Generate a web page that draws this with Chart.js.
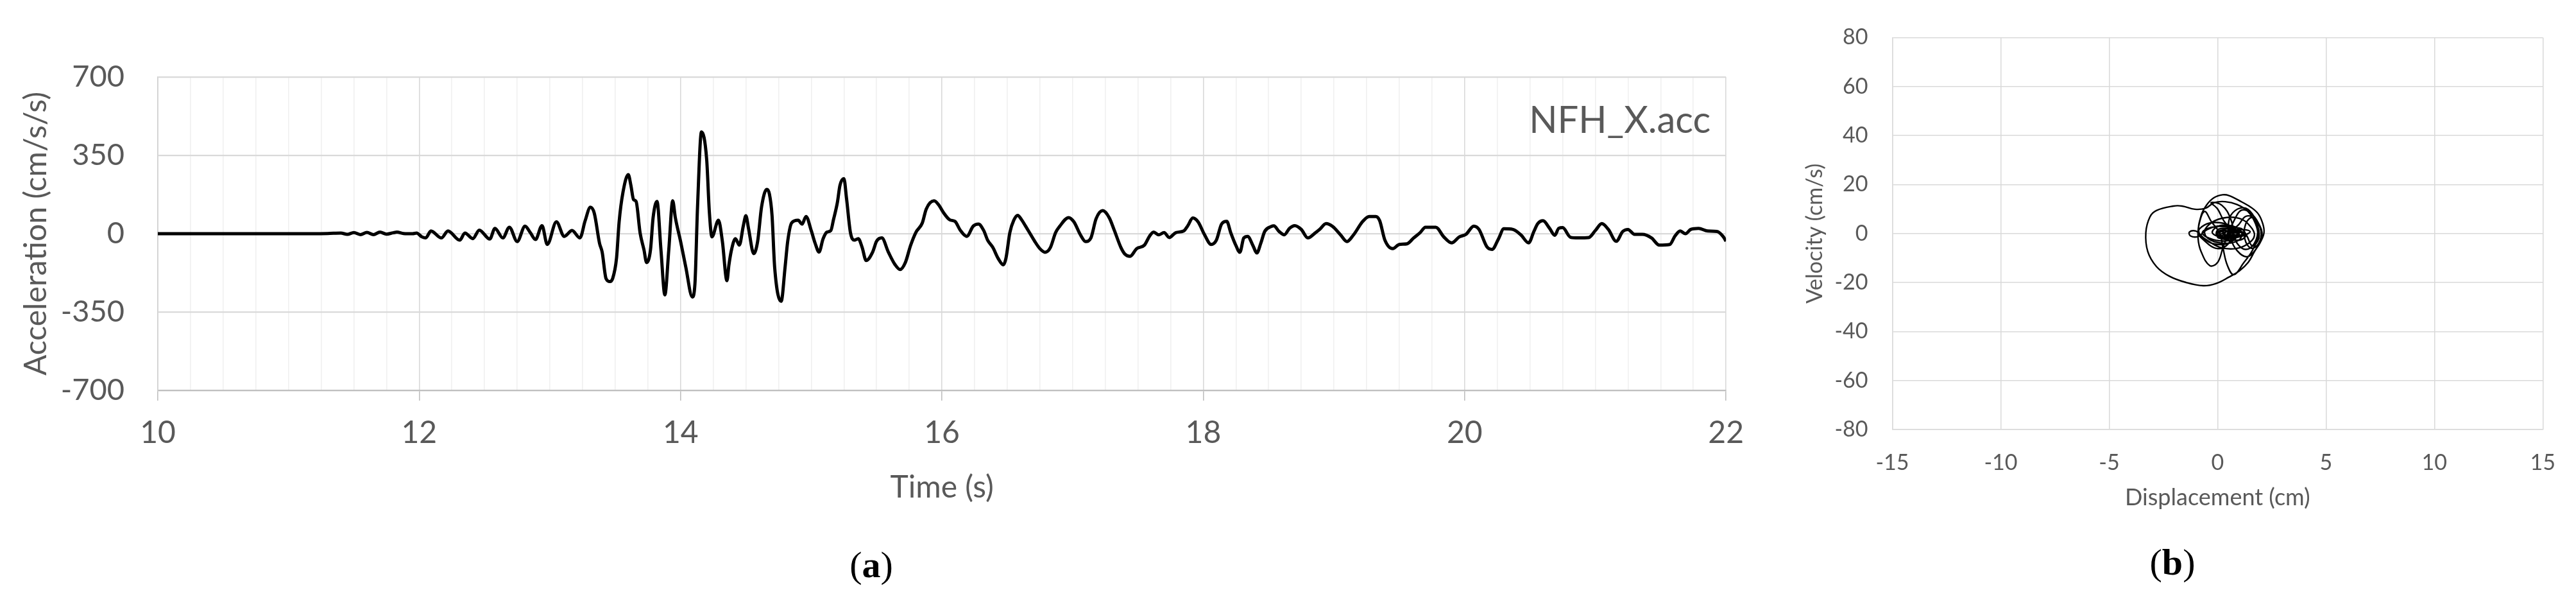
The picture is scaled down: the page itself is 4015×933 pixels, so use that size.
<!DOCTYPE html>
<html>
<head>
<meta charset="utf-8">
<script src="https://cdn.jsdelivr.net/npm/chart.js"></script>
<style>
  html, body { margin: 0; padding: 0; background: #fff; overflow: hidden; }
  #wrap { position: relative; width: 4015px; height: 933px; }
  canvas { position: absolute; top: 0; }
  #accChart { left: 0; }
  #phaseChart { left: 2740px; }
  .sub { position: absolute; font-family: "Liberation Serif", serif; font-size: 58px; color: #000;
         transform: translate(-50%, -50%); white-space: nowrap; }
</style>
</head>
<body>
<div id="wrap">
  <canvas id="accChart" width="2740" height="933"></canvas>
  <canvas id="phaseChart" width="1275" height="933"></canvas>
  <div class="sub" style="left:1358px; top:879px;">(<b>a</b>)</div>
  <div class="sub" style="left:3386px; top:875px;">(<b>b</b>)</div>
</div>
<script>
// (a) acceleration record NFH_X.acc
const timeSec = [
  10, 10.5, 11, 11.3, 11.4, 11.45, 11.5, 11.55, 11.6, 11.65, 11.7, 11.75, 11.8, 11.83, 11.88, 11.95, 11.98, 12.02, 12.05,
  12.09, 12.17, 12.22, 12.31, 12.35, 12.41, 12.46, 12.54, 12.58, 12.64, 12.69, 12.75, 12.81, 12.85, 12.89, 12.94, 12.98,
  13.05, 13.11, 13.17, 13.23, 13.27, 13.31, 13.34, 13.38, 13.40, 13.43, 13.46, 13.48, 13.51, 13.53, 13.56, 13.60, 13.62,
  13.64, 13.66, 13.69, 13.72, 13.74, 13.77, 13.79, 13.82, 13.85, 13.88, 13.91, 13.94, 13.96, 14.00, 14.04, 14.09, 14.11,
  14.13, 14.16, 14.20, 14.22, 14.24, 14.29, 14.32, 14.355, 14.37, 14.39, 14.42, 14.45, 14.48, 14.50, 14.52, 14.56, 14.59,
  14.62, 14.66, 14.68, 14.70, 14.72, 14.77, 14.80, 14.82, 14.85, 14.90, 14.93, 14.96, 15.00, 15.03, 15.06, 15.09, 15.12,
  15.15, 15.17, 15.20, 15.22, 15.25, 15.27, 15.30, 15.33, 15.36, 15.39, 15.42, 15.47, 15.50, 15.54, 15.59, 15.64, 15.68,
  15.72, 15.76, 15.80, 15.85, 15.88, 15.94, 15.98, 16.01, 16.06, 16.10, 16.14, 16.19, 16.24, 16.28, 16.32, 16.35, 16.39,
  16.43, 16.47, 16.49, 16.52, 16.55, 16.58, 16.61, 16.64, 16.67, 16.71, 16.75, 16.79, 16.83, 16.87, 16.90, 16.97, 17.01,
  17.06, 17.10, 17.14, 17.18, 17.23, 17.28, 17.32, 17.37, 17.40, 17.44, 17.49, 17.55, 17.59, 17.62, 17.66, 17.70, 17.74,
  17.79, 17.85, 17.88, 17.92, 17.96, 18.01, 18.06, 18.10, 18.14, 18.18, 18.21, 18.25, 18.28, 18.31, 18.34, 18.38, 18.41,
  18.44, 18.47, 18.52, 18.54, 18.58, 18.62, 18.66, 18.70, 18.75, 18.80, 18.86, 18.89, 18.94, 18.99, 19.05, 19.10, 19.15,
  19.22, 19.27, 19.32, 19.35, 19.39, 19.45, 19.50, 19.56, 19.61, 19.66, 19.70, 19.78, 19.84, 19.90, 19.96, 20.01, 20.07,
  20.11, 20.17, 20.21, 20.26, 20.30, 20.37, 20.43, 20.49, 20.53, 20.56, 20.60, 20.65, 20.69, 20.72, 20.75, 20.81, 20.87,
  20.95, 21.00, 21.05, 21.10, 21.16, 21.21, 21.25, 21.30, 21.36, 21.43, 21.49, 21.57, 21.61, 21.65, 21.69, 21.73, 21.79,
  21.86, 21.93, 21.98, 22.00
];
const accel = [
  0, 0, 0, 1, 3, -3, 5, -4, 6, -4, 7, -2, 4, 7, 1, 0, 3, -14, -19,
  12, -19, 12, -29, 3, -22, 16, -24, 24, -19, 29, -35, 34, 5, -26, 36, -48,
  53, -12, 14, -19, 58, 118, 91, -43, -82, -201, -214, -201, -110, 53, 187, 264, 216,
  153, 144, 5, -72, -129, -72, 72, 144, -72, -273, -72, 147, 72, -34, -149, -283, -225,
  120, 455, 331, 101, -14, 60, -34, -210, -140, -72, -22, -51, 34, 80, 24, -89, -34,
  120, 198, 177, 82, -149, -302, -149, -34, 48, 60, 43, 77, 14, -43, -82, -24, 7,
  14, 62, 139, 216, 246, 158, 5, -29, -22, -62, -120, -82, -34, -19, -82, -137, -160,
  -129, -53, 5, 48, 110, 147, 125, 96, 62, 55, 16, -12, 34, 43, 14, -29, -62,
  -110, -139, -110, 5, 60, 82, 62, 34, 5, -34, -67, -83, -62, 5, 32, 72, 53,
  -5, -35, -19, 67, 103, 72, 14, -62, -91, -101, -67, -51, -10, 7, -5, 5, -17,
  5, 12, 34, 70, 53, -5, -48, -29, 43, 55, 5, -53, -83, -19, -12, -53, -86,
  -43, 10, 32, 35, 10, -5, 24, 36, 19, -19, 5, 19, 45, 32, -5, -35, -5,
  55, 77, 77, 58, -29, -67, -48, -45, -19, 5, 29, 29, -14, -41, -14, -3, 34,
  19, -58, -70, -22, 22, 19, -5, -41, 10, 45, 58, 24, -7, 24, 27, -16, -19,
  -17, 14, 45, 19, -34, 10, 19, -3, -3, -19, -51, -48, -10, 12, 0, 19, 24,
  12, 10, -14, -34
];
const accTicks = [-700, -350, 0, 350, 700];

// (b) velocity vs displacement orbit
const dispCm = [
  0, 0.15, 0.35, 0.2, 0, 0.1, 0.5, 0.6, 0.3, -0.05, 0.05, 0.6, 0.9, 0.6, 0.1,
  -0.25, 0.1, 0.7, 1.1, 1.0, 0.4, -0.3, -0.6, -0.4, 0.2, 1.0, 1.5, 1.7, 1.4, 0.8, 0.1, -0.5,
  -0.86, -0.76, -0.51, -0.17, 0.23, 0.52, 1.11, 1.6, 1.9, 2.09, 2.14, 2.0, 1.7, 1.41, 1.01, 0.52,
  -0.07, -0.66, -1.45, -2.23, -2.82, -3.22, -3.31, -3.12, -2.82, -2.04, -1.64, -1.05, -0.56,
  -0.15, 0.35, 0.9, 1.4, 1.75, 1.85, 1.6, 1.2, 0.75, 0.45, 0.25, 0.1,
  -0.3, -0.6, -0.85, -0.9, -0.76, -0.36, 0, 0.25, 0.5,
  0.8, 1.1, 1.5, 1.9, 2.05, 1.8, 1.35, 0.9, 0.6,
  0.5, 0.7, 1.2, 1.6, 1.85, 1.7, 1.3, 0.9, 0.7,
  0.3, 0, -0.3, 0.2, 0.6, 0.7, 0.4, -0.1, -0.6,
  -0.9, -0.6, -0.1, 0.5, 0.9, 0.7, 0.2, -0.4, -0.8,
  -1.0, -1.3, -1.25, -0.9, -0.5, 0, 0.6, 1.0, 0.7, 0.1, -0.5,
  -0.7, -0.3, 0.3, 0.9, 1.3, 1.1, 0.5, 0,
  0.9, 1.3, 1.7, 2.0, 1.9, 1.55, 1.25, 1.3, 1.6, 1.85, 1.9, 1.6, 1.35,
  1.1, 0.6, 0.2, 0.1, 0.4, 0.9, 1.3, 1.5, 1.2, 0.6, 0.25, 0.35, 0.8, 1.2,
  1.0, 0.5, 0.3, 0.6, 1.1, 1.25, 0.9, 0.5, 0.45, 0.8, 1.0, 0.8, 0.6
];
const velCms = [
  0, 0.8, 0.2, -0.8, -0.2, 1.2, 0.9, -0.5, -1.4, -0.5, 1.8, 1.6, -0.3, -1.9, -1.5,
  0.5, 3.2, 3.0, 0.6, -2.6, -4.0, -2.8, 0.2, 3.6, 6.2, 6.2, 3.0, -0.8, -4.2, -6.2, -5.6, -2.6,
  0.35, 7.3, 11.6, 14.6, 15.8, 15.5, 12.9, 10.3, 7.7, 3.8, 0.35, -3.1, -7.4, -11.8, -15.2, -17.8,
  -20.4, -21.3, -20, -17.4, -13.5, -7.4, 0.35, 6.8, 9.4, 11.2, 11.2, 9.9, 10.3,
  12.6, 13.0, 11.8, 9.0, 4.0, -1.0, -7.0, -12.0, -16.8, -13.0, -6.0, 0,
  5.0, 9.0, 4.0, -2.0, -7.4, -13.1, -11.8, -5.7, 0,
  6.0, 9.5, 8.5, 4.0, -1.0, -6.0, -9.5, -7.0, -2.0,
  4.0, 8.5, 10.5, 8.0, 2.0, -4.0, -6.5, -4.0, 1.0,
  5, 10, 12.6, 11.5, 6, 0, -5, -6, -3,
  0.5, 3.5, 4.5, 3.5, 0.5, -3, -4.5, -3.5, -0.5,
  1, 0.6, -1, -1.2, 1.5, 3, 2.5, 0, -2.5, -3, -1.5,
  0.5, 2.5, 2.8, 1.5, -0.5, -2.5, -2.6, -1.2,
  3, 7, 6, 1, -4, -6, -2, 4, 6.5, 3, -2, -5, -1,
  2, 2.2, 1.2, -0.5, -1.8, -1.6, -0.5, 0.8, 1.6, 1.4, 0.3, -1, -1.2, -0.3,
  0.8, 0.9, 0, -0.9, -0.6, 0.2, 0.6, 0.4, -0.4, -0.5, 0, 0.3, 0
];

const TEXT = '#595959';
const FONT = 'Lato';
Chart.defaults.font.family = FONT;
Chart.defaults.color = TEXT;

const accPoints = timeSec.map((t, i) => ({ x: t, y: accel[i] }));
const orbitPoints = dispCm.map((d, i) => ({ x: d, y: velCms[i] }));

const recordLabel = {
  id: 'recordLabel',
  afterDraw(chart) {
    const { ctx, chartArea } = chart;
    ctx.save();
    ctx.font = '58px ' + FONT;
    ctx.fillStyle = TEXT;
    ctx.textAlign = 'right';
    ctx.textBaseline = 'alphabetic';
    ctx.fillText('NFH_X.acc', chartArea.right - 24, chartArea.top + 87);
    ctx.restore();
  }
};

function drawCharts() {
  new Chart(document.getElementById('accChart'), {
    type: 'line',
    data: {
      datasets: [{
        data: accPoints,
        borderColor: '#000',
        borderWidth: 5,
        pointRadius: 0,
        cubicInterpolationMode: 'monotone',
        fill: false
      }]
    },
    options: {
      responsive: false,
      animation: false,
      devicePixelRatio: 1,
      layout: { padding: { top: 120, right: 48, left: 0, bottom: 0 } },
      plugins: { legend: { display: false }, tooltip: { enabled: false } },
      scales: {
        x: {
          type: 'linear',
          min: 10,
          max: 22,
          afterFit: (s) => { s.height = 325; },
          ticks: {
            stepSize: 0.25,
            autoSkip: false,
            maxRotation: 0,
            padding: 22,
            font: { size: 48 },
            callback: (v) => (v % 2 === 0 ? String(v) : '')
          },
          grid: {
            color: (c) => (c.tick && c.tick.value % 2 === 0 ? '#d9d9d9' : '#f0f0f0'),
            lineWidth: 1.6,
            tickLength: 16,
            tickColor: (c) => (c.tick && c.tick.value % 2 === 0 ? '#bfbfbf' : 'rgba(0,0,0,0)')
          },
          border: { color: '#bfbfbf', width: 2.2 },
          title: {
            display: true,
            text: 'Time (s)',
            font: { size: 48 },
            color: TEXT,
            padding: { top: 0, bottom: 145 }
          }
        },
        y: {
          min: -700,
          max: 700,
          afterFit: (s) => { s.width = 246; },
          afterBuildTicks: (s) => { s.ticks = accTicks.map((v) => ({ value: v })); },
          ticks: { padding: 52, font: { size: 47 } },
          grid: { color: '#d9d9d9', lineWidth: 2.2, drawTicks: false },
          border: { color: '#d0d0d0', width: 1.6 },
          title: {
            display: true,
            text: 'Acceleration (cm/s/s)',
            font: { size: 48 },
            color: TEXT,
            padding: { top: 28, bottom: 0 }
          }
        }
      }
    },
    plugins: [recordLabel]
  });

  new Chart(document.getElementById('phaseChart'), {
    type: 'scatter',
    data: {
      datasets: [{
        data: orbitPoints,
        showLine: true,
        borderColor: '#000',
        borderWidth: 2.4,
        pointRadius: 0,
        tension: 0.4,
        fill: false
      }]
    },
    options: {
      responsive: false,
      animation: false,
      devicePixelRatio: 1,
      layout: { padding: { top: 54, right: 47, left: 0, bottom: 0 } },
      plugins: { legend: { display: false }, tooltip: { enabled: false } },
      scales: {
        x: {
          type: 'linear',
          min: -15,
          max: 15,
          afterFit: (s) => { s.height = 264; },
          ticks: { stepSize: 5, padding: 32, font: { size: 34 }, maxRotation: 0 },
          grid: { color: '#d9d9d9', lineWidth: 1.5, drawTicks: false },
          border: { color: '#d9d9d9', width: 1.5 },
          title: {
            display: true,
            text: 'Displacement (cm)',
            font: { size: 36 },
            color: TEXT,
            padding: { top: 0, bottom: 136 }
          }
        },
        y: {
          min: -80,
          max: 80,
          afterFit: (s) => { s.width = 209.5; },
          ticks: { stepSize: 20, padding: 38, font: { size: 34 } },
          grid: { color: '#d9d9d9', lineWidth: 1.5, drawTicks: false },
          border: { color: '#d9d9d9', width: 1.5 },
          title: {
            display: true,
            text: 'Velocity (cm/s)',
            font: { size: 34 },
            color: TEXT,
            padding: { top: 69, bottom: 0 }
          }
        }
      }
    }
  });
}

Promise.all([
  document.fonts.load('48px Lato'),
  document.fonts.load('bold 58px "Liberation Serif"')
]).then(drawCharts, drawCharts);
</script>
</body>
</html>
